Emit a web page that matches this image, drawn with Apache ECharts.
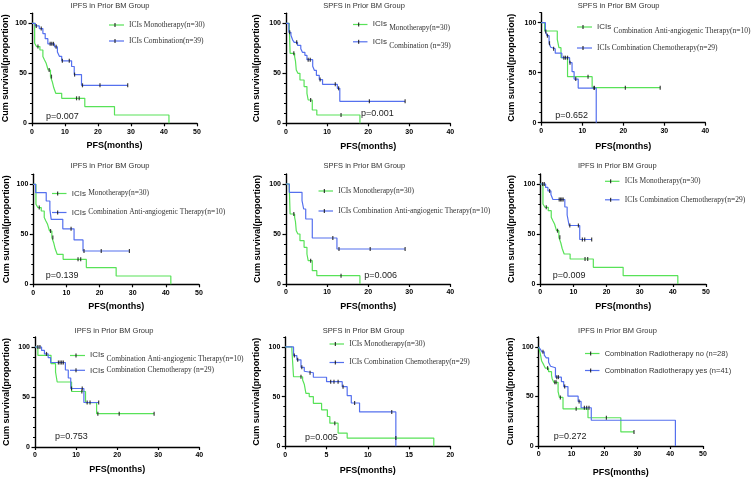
<!DOCTYPE html>
<html><head><meta charset="utf-8">
<script src="https://cdn.jsdelivr.net/npm/echarts@6/dist/echarts.min.js"></script>
<style>html,body{margin:0;padding:0;background:#fff}#c{width:753px;height:478px}</style>
</head><body><div id="c"></div>
<script>
// ---------- data ----------
// IPFS, ICIs monotherapy (n=30)
const ipfsMonoT = [0, 0.8, 1.4, 2.4, 3.3, 3.8, 4.3, 4.9, 5.6, 6.2, 6.6, 7.2, 9.0, 16.0, 25.0, 41.5];
const ipfsMonoS = [100, 80, 76.7, 73.3, 66.7, 63.3, 60, 53.3, 46.7, 41, 35.5, 30, 25, 16.7, 8.3, 0];
const ipfsMonoC = [1.8, 5.2, 5.9, 13.5, 14.3];
// IPFS, ICIs combination (n=39)
const ipfsCombT = [0, 1.0, 2.2, 3.3, 4.0, 4.8, 6.8, 7.7, 8.3, 9.0, 12.0, 12.8, 15.0, 29];
const ipfsCombS = [100, 97.4, 94.7, 89.7, 84.6, 79.5, 76.5, 71.4, 67, 62.5, 56.8, 48.7, 38, 38];
const ipfsCombC = [1.3, 2.8, 5.5, 6.0, 6.5, 7.3, 9.2, 11.3, 12.9, 15.3, 20.6, 29];
// IPFS, combination anti-angiogenic (n=10)
const ipfsAntiT = [0, 0.7, 3.9, 5.0, 5.4, 8.9, 12.3, 15.0, 29];
const ipfsAntiS = [100, 91.7, 83.3, 75, 65, 55.5, 44.4, 33.3, 33.3];
const ipfsAntiC = [11.4, 15.3, 20.5, 29];
// IPFS, combination chemotherapy (n=29)
const ipfsChemoT = [0, 1.6, 2.3, 3.2, 3.8, 7.4, 8.1, 8.7, 11.9, 15.5];
const ipfsChemoS = [100, 96.6, 93.1, 89.4, 84.5, 77, 69, 58.5, 44.5, 44.5];
const ipfsChemoC = [0.7, 1.2, 2.8, 5.7, 6.1, 6.5, 6.9, 8.9, 11.5, 12.7, 13.4, 15.5];
// SPFS, ICIs monotherapy (n=30)
const spfsMonoT = [0, 0.8, 1.0, 2.1, 2.3, 2.5, 2.9, 3.4, 4.4, 5.1, 5.4, 6.4, 7.5, 18.0];
const spfsMonoS = [100, 96.7, 70, 66.7, 62.5, 53.3, 50, 43.3, 36.7, 30, 23.3, 13.3, 8.3, 0];
const spfsMonoC = [1.9, 6.0, 13.4];
// SPFS, ICIs combination (n=39)
const spfsCombT = [0, 0.7, 1.2, 1.6, 2.0, 2.8, 3.6, 4.0, 4.6, 5.1, 6.5, 6.9, 7.4, 8.1, 8.9, 12.5, 13.1, 29];
const spfsCombS = [100, 91, 88, 83.5, 81, 78, 74.5, 71, 68, 63.6, 57, 53, 48, 43.7, 39, 35, 22, 22];
const spfsCombC = [0.9, 2.6, 5.4, 5.9, 8.3, 12.0, 12.8, 20.3, 29];
// SPFS, combination anti-angiogenic (n=10)
const spfsAntiT = [0, 0.8, 3.9, 4.3, 4.8, 6.4, 12.4, 29];
const spfsAntiS = [100, 91.7, 83.3, 75, 65, 46, 35, 35];
const spfsAntiC = [11.4, 12.9, 20.5, 29];
// SPFS, combination chemotherapy (n=29)
const spfsChemoT = [0, 1.0, 1.4, 1.9, 2.3, 2.5, 3.4, 5.0, 6.9, 7.5, 8.0, 9.0, 13.4];
const spfsChemoS = [100, 91.3, 87, 79.5, 75.5, 74, 69.5, 65, 60, 51, 43.6, 34.6, 0];
const spfsChemoC = [1.1, 1.5, 2.0, 3.0, 5.5, 5.9, 6.4, 7.0, 8.4, 12.9];
// IPFS, radiotherapy no (n=28)
const radNoT = [0, 0.5, 0.9, 1.5, 2.0, 3.0, 3.9, 4.1, 4.6, 5.9, 6.3, 7.4, 15.0, 25.0, 29];
const radNoS = [100, 92.9, 85.7, 82.1, 78.6, 75, 71.4, 67.9, 64.3, 55, 49, 37.5, 28.5, 14.2, 14.2];
const radNoC = [2.7, 4.9, 5.3, 6.6, 11.4, 20.6, 29];
// IPFS, radiotherapy yes (n=41)
const radYesT = [0, 0.5, 1.0, 1.7, 2.3, 3.0, 3.6, 4.1, 5.1, 6.9, 7.6, 8.9, 12.0, 12.9, 16.0, 41.6];
const radYesS = [100, 97.6, 95, 91.6, 89, 84.6, 80.5, 79, 69.5, 65, 60, 50.3, 45, 38.6, 26, 0];
const radYesC = [1.3, 5.5, 6.0, 7.9, 12.3, 13.9, 14.6, 15.3];

const panelTitles = ['IPFS in Prior BM Group','SPFS in Prior BM Group','SPFS in Prior BM Group',
  'IPFS in Prior BM Group','SPFS in Prior BM Group','IPFS in Prior BM Group',
  'IPFS in Prior BM Group','SPFS in Prior BM Group','IPFS in Prior BM Group'];
const pValues = ['p=0.007','p=0.001','p=0.652','p=0.139','p=0.006','p=0.009','p=0.753','p=0.005','p=0.272'];
const xMax = [50, 40, 40, 50, 40, 50, 40, 20, 50];
const xStep = [10, 10, 10, 10, 10, 10, 10, 5, 10];
const yTicks = [0, 50, 100];
const yMinorStep = 10;
const yName = 'Cum survival(proportion)';
const xName = 'PFS(months)';

// ---------- styling / layout ----------
const GREEN = '#58e258', BLUE = '#5570ee';
const curves = [
  [{T:ipfsMonoT,S:ipfsMonoS,C:ipfsMonoC,color:GREEN,name:'ICIs Monotherapy(n=30)',mode:'serif'},
   {T:ipfsCombT,S:ipfsCombS,C:ipfsCombC,color:BLUE,name:'ICIs Combination(n=39)',mode:'serif'}],
  [{T:spfsMonoT,S:spfsMonoS,C:spfsMonoC,color:GREEN,name:'ICIs Monotherapy(n=30)',mode:'sub'},
   {T:spfsCombT,S:spfsCombS,C:spfsCombC,color:BLUE,name:'ICIs Combination (n=39)',mode:'sub'}],
  [{T:spfsAntiT,S:spfsAntiS,C:spfsAntiC,color:GREEN,name:'ICIs Combination Anti-angiogenic Therapy(n=10)',mode:'sub'},
   {T:spfsChemoT,S:spfsChemoS,C:spfsChemoC,color:BLUE,name:'ICIs Combination Chemotherapy(n=29)',mode:'serif'}],
  [{T:ipfsMonoT,S:ipfsMonoS,C:ipfsMonoC,color:GREEN,name:'ICIs Monotherapy(n=30)',mode:'mix'},
   {T:ipfsAntiT,S:ipfsAntiS,C:ipfsAntiC,color:BLUE,name:'ICIs Combination Anti-angiogenic Therapy(n=10)',mode:'mix'}],
  [{T:spfsMonoT,S:spfsMonoS,C:spfsMonoC,color:GREEN,name:'ICIs Monotherapy(n=30)',mode:'serif'},
   {T:spfsAntiT,S:spfsAntiS,C:spfsAntiC,color:BLUE,name:'ICIs Combination Anti-angiogenic Therapy(n=10)',mode:'serif'}],
  [{T:ipfsMonoT,S:ipfsMonoS,C:ipfsMonoC,color:GREEN,name:'ICIs Monotherapy(n=30)',mode:'serif'},
   {T:ipfsChemoT,S:ipfsChemoS,C:ipfsChemoC,color:BLUE,name:'ICIs Combination Chemotherapy(n=29)',mode:'serif'}],
  [{T:ipfsAntiT,S:ipfsAntiS,C:ipfsAntiC,color:GREEN,name:'ICIs Combination Anti-angiogenic Therapy(n=10)',mode:'sub'},
   {T:ipfsChemoT,S:ipfsChemoS,C:ipfsChemoC,color:BLUE,name:'ICIs Combination Chemotherapy (n=29)',mode:'mix'}],
  [{T:spfsMonoT,S:spfsMonoS,C:spfsMonoC,color:GREEN,name:'ICIs Monotherapy(n=30)',mode:'serif'},
   {T:spfsChemoT,S:spfsChemoS,C:spfsChemoC,color:BLUE,name:'ICIs Combination Chemotherapy(n=29)',mode:'serif'}],
  [{T:radNoT,S:radNoS,C:radNoC,color:GREEN,name:'Combination Radiotherapy no (n=28)',mode:'sans'},
   {T:radYesT,S:radYesS,C:radYesC,color:BLUE,name:'Combination Radiotherapy yes (n=41)',mode:'sans'}]
];
const grids = [
  {left:32, top:13.3, width:165, height:110},
  {left:286, top:13.3, width:164.3, height:110},
  {left:541.3, top:12.7, width:164, height:110},
  {left:33.3, top:174.3, width:165.7, height:110},
  {left:286, top:174, width:164.3, height:110},
  {left:540.3, top:174, width:165.7, height:110},
  {left:35, top:337, width:164.3, height:110},
  {left:285.3, top:337, width:165, height:109.3},
  {left:538.7, top:337, width:164.3, height:109.3}
];
const titlePos = [[110,5.5],[364,5.5],[618.7,5.5],[110,165.7],[364.3,165.7],[617.3,165.7],[114,330.7],[363.7,330.7],[617.5,330.7]];
const pPos = [[46,116.7],[361,113.3],[555.3,116],[45.7,276],[364.3,276],[552.7,276],[55,436.3],[305,437.3],[553.7,436.3]];
const xNameGap = [18,18.5,19,18,18,18,18,20,22];
const yNameGap = [21.5,24.5,24.8,22.5,23.8,23.8,23.8,23.8,23.9];
const legendPos = [
  {left:109, top:21, gap:8},
  {left:352.7, top:20, gap:4.8},
  {left:577, top:22.5, gap:9},
  {left:51.7, top:189.5, gap:11},
  {left:318.3, top:187, gap:12},
  {left:604.7, top:177.3, gap:10.5},
  {left:70, top:351, gap:2.8},
  {left:329.3, top:340, gap:10.5},
  {left:584.7, top:349.5, gap:9}
];

function icon(color) {
  const svg = '<svg xmlns="http://www.w3.org/2000/svg" width="15" height="8" viewBox="0 0 15 8">' +
    '<rect x="0" y="3.4" width="15" height="1.2" fill="' + color + '"/>' +
    '<rect x="5.5" y="2" width="1" height="4" fill="#111"/></svg>';
  return 'image://data:image/svg+xml;charset=utf-8,' + encodeURIComponent(svg);
}
function survAt(T, S, t) {
  let v = S[0];
  for (let k = 0; k < T.length; k++) { if (T[k] <= t) v = S[k]; }
  return v;
}
const rich = {
  s: {fontFamily:'Liberation Serif', fontSize:7.5, color:'#333', lineHeight:10},
  a: {fontFamily:'Liberation Sans', fontSize:8, color:'#333', lineHeight:10},
  a2: {fontFamily:'Liberation Sans', fontSize:8, color:'#333', lineHeight:9, verticalAlign:'top'},
  c: {fontFamily:'Liberation Serif', fontSize:7.5, color:'#333', lineHeight:9, verticalAlign:'top', padding:[4.5,0,0,0]},
  n: {fontFamily:'Liberation Sans', fontSize:7.5, color:'#333', lineHeight:10}
};
function fmt(name, mode) {
  const rest = name.replace(/^ICIs\s*/, '');
  if (mode === 'serif') return '{s|' + name + '}';
  if (mode === 'mix') return '{a|ICIs }{s|' + rest + '}';
  if (mode === 'sub') return '{a2|ICIs }{c|' + rest + '}';
  return '{n|' + name + '}';
}

const gridOpt = [], xAxes = [], yAxes = [], series = [], legends = [], graphics = [];
const axisFont = {fontFamily:'Liberation Sans', fontWeight:'bold', fontSize:7, color:'#000'};
const nameFont = {fontFamily:'Liberation Sans', fontWeight:'bold', fontSize:9, color:'#000'};
for (let i = 0; i < 9; i++) {
  gridOpt.push(Object.assign({containLabel:false}, grids[i]));
  xAxes.push({
    type:'value', gridIndex:i, min:0, max:xMax[i], interval:xStep[i],
    name:xName, nameLocation:'middle', nameGap:xNameGap[i], nameTextStyle:nameFont,
    axisLine:{show:true, lineStyle:{color:'#000', width:1.4}},
    axisTick:{show:true, inside:false, length:3, lineStyle:{color:'#000', width:1.2}},
    axisLabel:Object.assign({margin:5}, axisFont),
    splitLine:{show:false}
  });
  // primary y axis: line, labels, minor ticks every 10
  yAxes.push({
    type:'value', gridIndex:i, position:'left', min:0, max:110, interval:yMinorStep,
    name:yName, nameLocation:'middle', nameGap:yNameGap[i], nameTextStyle:nameFont,
    axisLine:{show:true, lineStyle:{color:'#000', width:1.4}},
    axisTick:{show:true, inside:false, length:2, lineStyle:{color:'#000', width:1}},
    axisLabel:Object.assign({margin:5, customValues:yTicks}, axisFont),
    splitLine:{show:false}
  });
}
// overlay y axes carrying only the longer major ticks
for (let i = 0; i < 9; i++) {
  yAxes.push({
    type:'value', gridIndex:i, position:'left', offset:0, min:0, max:110, interval:yMinorStep,
    axisLine:{show:false},
    axisTick:{show:true, inside:false, length:3.5, customValues:yTicks, lineStyle:{color:'#000', width:1.2}},
    axisLabel:{show:false}, splitLine:{show:false}
  });
}
for (let i = 0; i < 9; i++) {
  const modes = {};
  curves[i].forEach(cv => {
    modes[cv.name] = cv.mode;
    series.push({
      type:'line', name:cv.name, xAxisIndex:i, yAxisIndex:i, step:'end',
      data:cv.T.map((t, k) => [t, cv.S[k]]), symbol:'none', showSymbol:false,
      lineStyle:{color:cv.color, width:1.2}, itemStyle:{color:cv.color}, silent:true, z:2
    });
    series.push({
      type:'scatter', xAxisIndex:i, yAxisIndex:i,
      data:cv.C.map(t => [t, survAt(cv.T, cv.S, t)]),
      symbol:'rect', symbolSize:[1.2, 4], itemStyle:{color:'#111'}, silent:true, z:5
    });
  });
  const lp = legendPos[i];
  legends.push({
    orient:'vertical', left:lp.left, top:lp.top, itemGap:lp.gap, padding:0,
    itemWidth:15, itemHeight:8, selectedMode:false, inactiveColor:'#333',
    data:curves[i].map(cv => ({name:cv.name, icon:icon(cv.color)})),
    formatter:(name) => fmt(name, modes[name]),
    textStyle:{color:'#333', rich:rich}
  });
  graphics.push({
    type:'text', x:titlePos[i][0], y:titlePos[i][1],
    style:{text:panelTitles[i], fill:'#333', font:'7.5px "Liberation Sans"', textAlign:'center', textVerticalAlign:'middle'}
  });
  graphics.push({
    type:'text', x:pPos[i][0], y:pPos[i][1],
    style:{text:pValues[i], fill:'#222', font:'9px "Liberation Sans"', textAlign:'left', textVerticalAlign:'middle'}
  });
}

const chart = echarts.init(document.getElementById('c'), null, {renderer:'canvas'});
chart.setOption({
  animation:false,
  backgroundColor:'#fff',
  grid:gridOpt, xAxis:xAxes, yAxis:yAxes, series:series, legend:legends,
  graphic:graphics
});
</script></body></html>
